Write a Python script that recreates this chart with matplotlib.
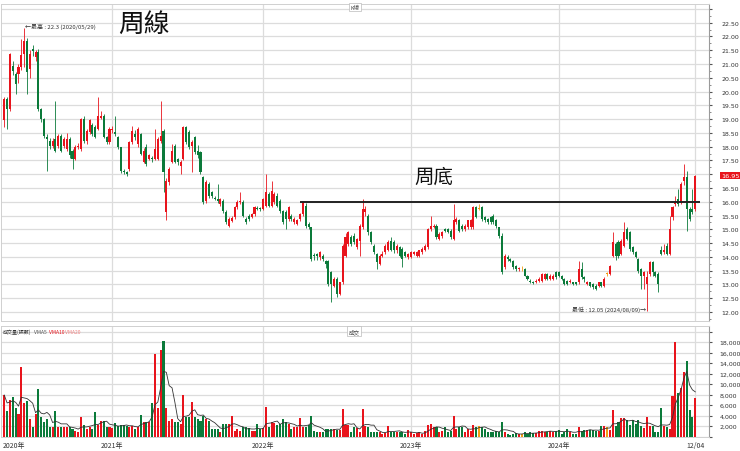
import numpy as np
import pandas as pd
import matplotlib
matplotlib.use('Agg')
import matplotlib.pyplot as plt
from matplotlib.ticker import MultipleLocator, FuncFormatter

plt.rcParams['font.family'] = ['Noto Sans CJK TC', 'DejaVu Sans']

# 週K資料 (從 2020-04-10 開始, 每週五)
start_week = '2020-04-10'

opens = [18.95, 19.74, 19.37, 20.94, 20.64, 20.64, 20.89, 21.37, 21.85, 20.82,
         21.55, 21.25, 21.43, 19.37, 19.01, 18.36, 18.22, 18.04, 18.28, 18.04,
         18.40, 18.04, 17.92, 18.28, 17.86, 17.56, 17.98, 17.92, 19.01, 18.22,
         18.52, 18.77, 18.71, 18.65, 19.05, 19.13, 18.34, 18.16, 18.60, 18.52,
         18.34, 17.98, 17.13, 17.07, 17.19, 18.16, 18.46, 18.10, 18.46, 17.44,
         17.98, 17.56, 17.60, 17.56, 17.56, 18.22, 18.58, 15.62, 16.71, 17.44,
         18.04, 17.56, 17.31, 17.56, 18.71, 18.52, 18.04, 18.34, 17.86, 17.80,
         16.89, 16.04, 16.65, 16.35, 16.15, 16.10, 15.92, 16.04, 15.62, 15.13,
         15.30, 15.44, 15.80, 15.98, 15.98, 15.38, 15.50, 15.44, 15.56, 15.77,
         15.76, 15.74, 15.86, 16.28, 15.86, 15.98, 16.22, 16.04, 15.68, 15.62,
         15.38, 15.50, 15.26, 15.20, 15.38, 15.56, 15.86, 15.20, 15.07, 14.07,
         14.11, 13.99, 14.04, 13.86, 13.86, 13.44, 12.95, 13.20, 12.65, 13.08,
         14.04, 14.47, 14.71, 14.77, 14.35, 14.59, 15.07, 15.62, 15.50, 14.89,
         14.41, 14.11, 13.74, 14.04, 14.17, 14.23, 14.59, 14.53, 14.23, 14.35,
         14.29, 14.17, 13.99, 13.99, 14.11, 14.04, 14.04, 14.17, 14.23, 14.35,
         15.01, 15.10, 15.13, 14.65, 14.77, 15.01, 15.01, 14.95, 14.65, 15.26,
         15.32, 15.13, 15.01, 15.07, 15.07, 15.07, 15.80, 15.74, 15.80, 15.44,
         15.38, 15.44, 15.50, 15.32, 15.07, 14.77, 13.62, 13.99, 13.92, 13.86,
         13.68, 13.54, 13.58, 13.56, 13.32, 13.14, 13.10, 13.08, 13.14, 13.14,
         13.20, 13.38, 13.20, 13.20, 13.44, 13.44, 13.32, 13.20, 13.14, 13.08,
         13.08, 13.08, 13.08, 13.56, 13.26, 13.02, 13.08, 13.02, 12.95, 12.95,
         13.08, 12.95, 13.38, 13.38, 14.04, 14.47, 14.53, 14.11, 14.41, 15.01,
         14.89, 14.35, 14.17, 13.92, 13.56, 13.32, 13.02, 13.38, 13.80, 13.44,
         13.38, 14.23, 14.17, 14.41, 14.11, 15.44, 15.92, 16.10, 15.98, 16.77,
         16.89, 15.74, 15.74, 15.74]

highs = [19.80, 19.80, 21.40, 21.10, 20.70, 21.00, 21.90, 22.30, 21.95, 21.50,
         21.70, 21.50, 21.55, 19.40, 19.05, 18.45, 18.30, 18.30, 19.67, 18.45,
         18.45, 18.35, 18.50, 18.35, 17.90, 18.05, 18.15, 19.05, 19.10, 18.65,
         19.00, 18.85, 18.80, 19.80, 19.30, 19.20, 18.40, 18.70, 18.75, 19.13,
         18.40, 18.00, 17.20, 17.10, 18.20, 18.75, 18.60, 18.70, 18.50, 17.95,
         18.10, 17.75, 17.65, 18.65, 18.35, 19.67, 18.65, 16.85, 17.25, 18.10,
         18.10, 17.60, 17.50, 18.75, 18.75, 18.60, 18.25, 18.40, 18.05, 17.85,
         16.95, 16.80, 16.70, 16.40, 16.20, 16.65, 16.15, 16.10, 15.70, 15.45,
         15.50, 15.85, 16.05, 16.35, 16.05, 15.45, 15.55, 15.60, 15.85, 15.85,
         15.80, 16.15, 17.01, 16.35, 16.77, 16.35, 16.30, 16.10, 15.70, 15.70,
         15.85, 15.55, 15.45, 15.38, 15.60, 16.00, 15.95, 15.25, 15.10, 14.15,
         14.15, 14.20, 14.10, 13.90, 13.90, 13.50, 13.25, 13.25, 13.10, 14.45,
         14.85, 14.95, 14.80, 14.85, 14.70, 15.20, 16.10, 15.85, 15.55, 14.95,
         14.45, 14.15, 14.10, 14.20, 14.45, 14.60, 14.71, 14.60, 14.45, 14.40,
         14.35, 14.20, 14.15, 14.20, 14.20, 14.20, 14.25, 14.35, 14.45, 15.05,
         15.50, 15.20, 15.20, 14.90, 14.95, 15.05, 15.05, 15.00, 15.92, 15.45,
         15.38, 15.20, 15.20, 15.35, 15.38, 15.85, 15.85, 15.92, 15.85, 15.50,
         15.40, 15.50, 15.55, 15.38, 15.10, 14.85, 14.10, 14.05, 13.95, 13.90,
         13.70, 13.62, 13.65, 13.60, 13.35, 13.20, 13.12, 13.18, 13.25, 13.40,
         13.42, 13.42, 13.36, 13.38, 13.50, 13.48, 13.35, 13.22, 13.16, 13.18,
         13.10, 13.10, 13.86, 13.80, 13.30, 13.12, 13.10, 13.05, 13.00, 13.10,
         13.10, 13.25, 13.45, 13.70, 14.89, 14.55, 14.60, 14.65, 15.26, 15.07,
         14.95, 14.40, 14.20, 13.95, 13.60, 13.50, 13.50, 13.85, 13.86, 13.50,
         13.45, 14.41, 14.45, 14.50, 15.50, 15.85, 16.20, 16.46, 16.70, 17.37,
         17.13, 15.80, 16.46, 16.98]

lows = [18.70, 18.65, 19.30, 20.60, 19.92, 20.30, 20.80, 20.90, 19.92, 20.50,
        21.30, 21.10, 19.30, 18.90, 18.30, 17.13, 17.90, 17.95, 17.80, 17.95,
        17.80, 17.95, 17.85, 17.60, 17.19, 17.50, 17.90, 17.85, 18.15, 18.10,
        18.45, 18.40, 18.30, 18.60, 19.00, 18.30, 18.10, 18.10, 18.50, 18.40,
        17.90, 17.05, 17.00, 16.95, 17.10, 18.10, 18.25, 18.00, 17.70, 17.40,
        17.30, 17.50, 17.45, 17.50, 17.50, 18.15, 16.35, 15.32, 16.60, 17.40,
        17.40, 17.35, 17.01, 17.50, 18.10, 17.90, 17.07, 17.75, 17.60, 17.00,
        15.90, 15.95, 16.15, 16.15, 16.05, 15.95, 15.85, 15.60, 15.20, 15.07,
        15.25, 15.38, 15.75, 15.90, 15.45, 15.20, 15.30, 15.40, 15.50, 15.70,
        15.65, 15.70, 15.80, 15.80, 15.80, 15.90, 15.80, 15.60, 15.20, 15.01,
        15.30, 15.30, 15.20, 15.15, 15.30, 15.50, 15.05, 15.00, 13.85, 13.90,
        13.90, 13.90, 13.85, 13.60, 12.95, 12.35, 12.90, 12.55, 12.60, 13.00,
        14.00, 14.40, 14.40, 14.45, 14.30, 14.04, 15.00, 15.50, 14.80, 14.45,
        14.10, 13.56, 13.70, 14.00, 14.10, 14.20, 14.20, 14.15, 14.15, 14.00,
        13.62, 14.00, 13.92, 13.95, 14.05, 14.00, 14.00, 14.10, 14.20, 14.30,
        14.95, 15.05, 14.65, 14.60, 14.70, 14.90, 14.85, 14.65, 14.60, 15.20,
        14.90, 14.95, 14.95, 15.00, 15.00, 15.00, 15.40, 15.70, 15.30, 15.25,
        15.20, 15.20, 15.20, 15.05, 14.70, 13.38, 13.56, 13.86, 13.80, 13.56,
        13.50, 13.50, 13.50, 13.30, 13.15, 13.05, 13.00, 13.05, 13.10, 13.10,
        13.15, 13.15, 13.15, 13.15, 13.20, 13.25, 13.15, 12.98, 12.98, 13.04,
        12.98, 12.98, 13.00, 13.20, 13.10, 12.98, 12.90, 12.85, 12.80, 12.90,
        12.90, 12.90, 13.30, 13.35, 14.00, 13.90, 13.95, 14.05, 14.35, 14.60,
        14.20, 14.10, 13.95, 13.40, 12.84, 12.84, 12.05, 13.30, 13.30, 13.25,
        12.71, 14.05, 14.10, 14.05, 14.05, 15.35, 15.85, 15.85, 15.90, 16.60,
        14.95, 15.30, 15.55, 15.68]

closes = [19.74, 19.37, 21.37, 20.76, 20.28, 20.89, 21.31, 21.85, 20.70, 21.37,
          21.49, 21.43, 19.37, 19.01, 18.40, 18.28, 18.04, 18.22, 17.86, 18.40,
          17.86, 18.28, 18.28, 17.68, 17.56, 17.98, 18.04, 19.01, 18.22, 18.58,
          18.95, 18.46, 18.34, 19.13, 19.13, 18.34, 18.16, 18.65, 18.65, 18.46,
          17.98, 17.13, 17.07, 17.01, 18.16, 18.58, 18.34, 18.65, 17.74, 17.86,
          17.37, 17.68, 17.56, 17.92, 18.28, 18.40, 17.07, 16.77, 17.19, 17.86,
          17.44, 17.44, 17.44, 18.71, 18.16, 17.98, 18.16, 17.80, 17.68, 17.07,
          15.98, 16.71, 16.22, 16.22, 16.10, 16.04, 16.10, 15.68, 15.26, 15.38,
          15.40, 15.80, 15.98, 16.04, 15.50, 15.26, 15.38, 15.56, 15.80, 15.74,
          15.72, 16.10, 16.34, 15.86, 16.40, 16.28, 15.86, 15.68, 15.26, 15.38,
          15.80, 15.38, 15.38, 15.32, 15.56, 15.98, 15.13, 15.07, 13.92, 14.04,
          14.04, 14.17, 13.92, 13.74, 13.02, 13.02, 13.20, 12.65, 13.08, 14.41,
          14.71, 14.89, 14.47, 14.53, 14.65, 15.13, 15.74, 15.74, 14.89, 14.53,
          14.17, 13.80, 14.04, 14.11, 14.41, 14.53, 14.23, 14.23, 14.41, 14.04,
          13.92, 14.04, 14.11, 14.17, 14.17, 14.17, 14.23, 14.29, 14.41, 15.01,
          15.13, 15.13, 14.71, 14.83, 14.89, 14.95, 14.89, 14.71, 15.32, 15.38,
          14.95, 15.01, 15.13, 15.32, 15.32, 15.80, 15.44, 15.74, 15.38, 15.32,
          15.26, 15.26, 15.26, 15.13, 14.77, 13.44, 14.04, 13.92, 13.86, 13.62,
          13.56, 13.58, 13.58, 13.32, 13.20, 13.08, 13.06, 13.14, 13.20, 13.38,
          13.38, 13.20, 13.32, 13.32, 13.26, 13.32, 13.20, 13.02, 13.02, 13.14,
          13.02, 13.02, 13.56, 13.26, 13.20, 13.08, 12.95, 12.90, 12.84, 13.08,
          12.95, 13.20, 13.38, 13.68, 14.53, 14.04, 14.04, 14.59, 14.89, 14.65,
          14.29, 14.17, 13.99, 13.50, 13.32, 13.44, 13.26, 13.80, 13.44, 13.32,
          13.02, 14.11, 14.23, 14.11, 15.01, 15.80, 15.98, 15.92, 16.65, 16.89,
          15.74, 15.38, 15.62, 16.95]

# 成交量(張)
volumes = [7900, 4900, 6950, 7460, 5360, 4290, 13300, 6380, 6830, 3330,
           1870, 4290, 9050, 3650, 2700, 3330, 1750, 1900, 4800, 1870,
           1750, 1750, 1870, 1900, 1430, 1100, 790, 3650, 2190, 1430,
           1750, 1430, 4670, 2200, 2900, 2900, 1900, 1900, 1550, 2500,
           2060, 2190, 2190, 2060, 1750, 2060, 1430, 1900, 4100, 2830,
           2700, 2700, 6380, 15700, 5360, 16500, 18200, 5360, 3000, 3330,
           2700, 2700, 2400, 7970, 3650, 3650, 6510, 3650, 3330, 3020,
           3970, 3330, 3020, 1430, 1430, 1430, 790, 2400, 2400, 2400,
           3840, 1110, 1430, 1110, 1750, 1750, 1550,
           1000, 1100, 2380, 1400, 1600, 5560, 1750, 2700, 2540, 2190,
           2380, 3330, 2700, 2380, 1430, 1750, 1750, 3460, 1750, 1750,
           2190, 3970, 1110, 790, 790, 790, 1430, 1430, 1430, 1430,
           1300, 1300, 5240, 2190, 2190, 790, 1750, 1560, 900, 5240,
           2060, 1750, 900, 900, 900, 790, 470, 630, 1940, 900,
           900, 790, 900, 900, 470, 1240, 790, 470, 600, 790,
           470, 1110, 2190, 2380, 1750, 1750, 900, 1110, 1750, 900,
           1110, 3970, 1430, 1750, 1750, 900, 1430, 1110, 2190, 1750,
           2060, 1750, 1430, 790, 790, 790, 1110, 900,
           2700, 950, 500, 300, 470, 660, 470, 500, 790, 470,
           790, 600, 660, 1110, 1110, 920, 920, 1050, 920, 1050,
           1240, 470, 920, 1430, 790, 470, 470, 1750, 980, 1240,
           1240, 1300, 1240, 1110, 1110, 1940, 1940, 1880, 1300, 5100,
           1940, 2700, 3520, 3520, 3150, 2190, 3150, 2380, 3150, 2060,
           1560, 3780, 2060, 1980, 790, 790, 5400, 2060, 1750, 1430,
           7650, 18100, 8270, 9240, 12200, 14300, 5100, 3650, 7300]

neck_level = 16.0
neck_start = '2022-04-08'

RED = '#e8141c'
GREEN = '#0b7a3a'
ORANGE = '#f39c12'
GRID = '#dcdcdc'
NUM_FONT = ['Liberation Sans Narrow', 'DejaVu Sans']

o = np.array(opens); h = np.array(highs); l = np.array(lows); c = np.array(closes)
v = np.array(volumes)
dates = pd.date_range(start_week, periods=len(c), freq='W-FRI')
x = np.arange(len(c))
col = np.where(c > o, RED, np.where(c < o, GREEN, ORANGE))
vma5 = pd.Series(v).rolling(5, min_periods=1).mean()

fig = plt.figure(figsize=(7.4, 4.52), dpi=100)
ax = fig.add_axes([0.002, 0.2876, 0.956, 0.7014])
axv = fig.add_axes([0.002, 0.032, 0.956, 0.2445], sharex=ax)

# K線
ax.vlines(x, l, h, colors=col, lw=0.6, zorder=3)
ax.bar(x, np.maximum(np.abs(c - o), 0.03), bottom=np.minimum(o, c), width=0.72,
       color=col, lw=0, zorder=4)

# 周底 line
i0 = int(np.searchsorted(dates, pd.Timestamp(neck_start)))
ax.hlines(neck_level, i0, len(c) + 0.5, colors='#222222', lw=1.4, zorder=5)

ax.set_xlim(-0.98, 247.8)
ax.set_ylim(11.67, 23.18)

# 年份分隔
year_idx = [i for i in range(1, len(dates)) if dates[i].year != dates[i - 1].year]
for a in (ax, axv):
    for i in year_idx + [len(c) - 1]:
        a.axvline(i, color=GRID, lw=0.9, zorder=0)

ax.yaxis.set_major_locator(MultipleLocator(0.5))
ax.yaxis.set_minor_locator(MultipleLocator(0.25))
ax.yaxis.set_major_formatter(FuncFormatter(lambda y, p: '' if y > 22.75 else f'{y:.2f}'))
ax.yaxis.tick_right()
ax.grid(axis='y', color=GRID, lw=0.9, zorder=0)
ax.tick_params(axis='y', which='major', length=2, pad=7, labelsize=4.5, colors='#555555',
               labelcolor='#333333', labelfontfamily=NUM_FONT)
ax.tick_params(axis='y', which='minor', length=1.2, colors='#777777')
ax.tick_params(axis='x', which='both', bottom=False, labelbottom=False)

# 成交量
axv.bar(x, v, width=0.72, color=col, lw=0, zorder=3)
axv.plot(x, vma5, color='#333333', lw=0.6, zorder=4)
axv.set_ylim(0, 21050)
axv.yaxis.set_major_locator(MultipleLocator(2000))
axv.yaxis.set_major_formatter(FuncFormatter(lambda y, p: '' if (y > 19000 or y <= 0) else f'{y:,.0f}'))
axv.yaxis.tick_right()
axv.grid(axis='y', color=GRID, lw=0.9, zorder=0)
axv.tick_params(axis='y', length=2, pad=5.5, labelsize=4.5, colors='#555555',
                labelcolor='#333333', labelfontfamily=NUM_FONT)
axv.tick_params(axis='x', which='both', bottom=False, labelbottom=False)

for a in (ax, axv):
    for s in ('top', 'left', 'bottom'):
        a.spines[s].set_color('#d0d0d0')
        a.spines[s].set_linewidth(0.7)
    a.spines['right'].set_color('#9a9a9a')
    a.spines['right'].set_linewidth(0.8)

# x 軸標籤
tr = axv.get_xaxis_transform()
axv.text(-0.6, -0.04, f'{dates[0].year}年', transform=tr, ha='left', va='top', fontsize=5, color='#333333')
for i in year_idx:
    axv.text(i, -0.04, f'{dates[i].year}年', transform=tr, ha='center', va='top', fontsize=5, color='#333333')
axv.text(len(c) - 1, -0.04, '12/04', transform=tr, ha='center', va='top', fontsize=5, color='#333333')

# 最高 / 最低
ih = int(np.argmax(h)); il = int(np.argmin(l))
ax.annotate(f'←最高 : {h[ih]:.1f} ({dates[ih]:%Y/%m/%d})', xy=(ih, h[ih]), xytext=(0.5, 1.5),
            textcoords='offset points', ha='left', va='center', fontsize=4.3, color='#333333')
ax.annotate(f'最低 : {l[il]:.2f} ({dates[il]:%Y/%m/%d})→', xy=(il, l[il]), xytext=(-0.5, 1),
            textcoords='offset points', ha='right', va='center', fontsize=4.3, color='#333333')

# 現價
ax.text(1.018, c[-1], f'{c[-1]:.2f}', transform=ax.get_yaxis_transform(), ha='left', va='center',
        fontsize=4.6, color='white', clip_on=False, family=NUM_FONT,
        bbox=dict(boxstyle='square,pad=0.2', fc=RED, ec='none'))

# 文字
fig.text(144 / 740, 1 - 25 / 452, '周線', ha='center', va='center', fontsize=18.5, color='#111111')
ax.text(151, 16.92, '周底', ha='center', va='center', fontsize=14, color='#111111')
fig.text(355 / 740, 1 - 8 / 452, 'K線', ha='center', va='center', fontsize=4, color='#444444',
         bbox=dict(boxstyle='square,pad=0.3', fc='white', ec='#bbbbbb', lw=0.5))
fig.text(354 / 740, 1 - 332 / 452, '成交', ha='center', va='center', fontsize=4, color='#444444',
         bbox=dict(boxstyle='square,pad=0.3', fc='white', ec='#bbbbbb', lw=0.5))
fig.text(3 / 740, 1 - 332 / 452, '成交量(張數)', ha='left', va='center', fontsize=3.6, color='#333333')
fig.text(34 / 740, 1 - 332 / 452, 'VMA5', ha='left', va='center', fontsize=3.6, color='#555555')
fig.text(49 / 740, 1 - 332 / 452, 'VMA10', ha='left', va='center', fontsize=3.6, color=RED)
fig.text(65 / 740, 1 - 332 / 452, 'VMA20', ha='left', va='center', fontsize=3.6, color='#f08080')

fig.savefig('out.png', dpi=100)
